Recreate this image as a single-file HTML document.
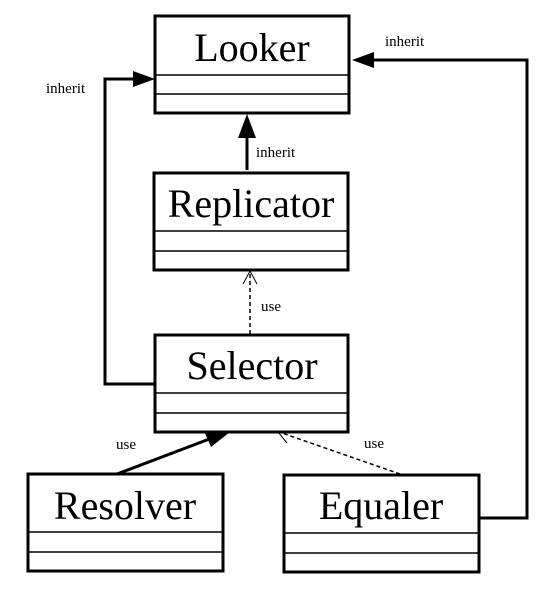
<!DOCTYPE html>
<html><head><meta charset="utf-8"><style>
html,body{margin:0;padding:0;background:#fff;}
svg{display:block;}
.t{font-family:"Liberation Serif",serif;font-size:40px;text-anchor:middle;fill:#000;}
.l{font-family:"Liberation Serif",serif;font-size:15px;fill:#000;}
</style></head><body>
<svg width="560" height="590" viewBox="0 0 560 590" xmlns="http://www.w3.org/2000/svg">
<g fill="none" stroke="#000">
<rect x="155" y="16" width="194" height="97" stroke-width="3"/>
<line x1="155" y1="75" x2="349" y2="75" stroke-width="1.5"/>
<line x1="155" y1="94" x2="349" y2="94" stroke-width="1.5"/>
<rect x="154" y="173" width="194" height="97" stroke-width="3"/>
<line x1="154" y1="231" x2="348" y2="231" stroke-width="1.5"/>
<line x1="154" y1="251" x2="348" y2="251" stroke-width="1.5"/>
<rect x="155" y="335" width="193" height="97" stroke-width="3"/>
<line x1="155" y1="393" x2="348" y2="393" stroke-width="1.5"/>
<line x1="155" y1="413" x2="348" y2="413" stroke-width="1.5"/>
<rect x="28" y="474" width="195" height="97" stroke-width="3"/>
<line x1="28" y1="532" x2="223" y2="532" stroke-width="1.5"/>
<line x1="28" y1="552" x2="223" y2="552" stroke-width="1.5"/>
<rect x="284" y="475" width="195" height="97" stroke-width="3"/>
<line x1="284" y1="533" x2="479" y2="533" stroke-width="1.5"/>
<line x1="284" y1="553" x2="479" y2="553" stroke-width="1.5"/>
<polyline points="155,384 105,384 105,79 135,79" stroke-width="3"/>
<polyline points="479,518 527,518 527,60 370,60" stroke-width="3"/>
<line x1="247" y1="170" x2="247" y2="133" stroke-width="3"/>
<line x1="250" y1="334" x2="250" y2="272" stroke-width="1.5" stroke-dasharray="4,3"/>
<polyline points="243,284 250,271 257,284" stroke-width="1"/>
<line x1="117" y1="474" x2="212" y2="438" stroke-width="3"/>
<line x1="400" y1="474" x2="279" y2="432" stroke-width="1.5" stroke-dasharray="4,3"/>
<polyline points="291,431 278,432 287,443" stroke-width="1"/>
</g>
<g fill="#000">
<polygon points="155,79 133,71 133,87"/>
<polygon points="352,60 374,52 374,68"/>
<polygon points="247,114 238,138 256,138"/>
<polygon points="230,432 204,431 211,447"/>
</g>
<text class="t" x="252" y="61">Looker</text>
<text class="t" x="251" y="217">Replicator</text>
<text class="t" x="252" y="379">Selector</text>
<text class="t" x="125" y="519">Resolver</text>
<text class="t" x="381" y="519">Equaler</text>
<text class="l" x="46" y="93">inherit</text>
<text class="l" x="385" y="46">inherit</text>
<text class="l" x="256" y="157">inherit</text>
<text class="l" x="261" y="311">use</text>
<text class="l" x="116" y="449">use</text>
<text class="l" x="364" y="448">use</text>
</svg>
</body></html>
